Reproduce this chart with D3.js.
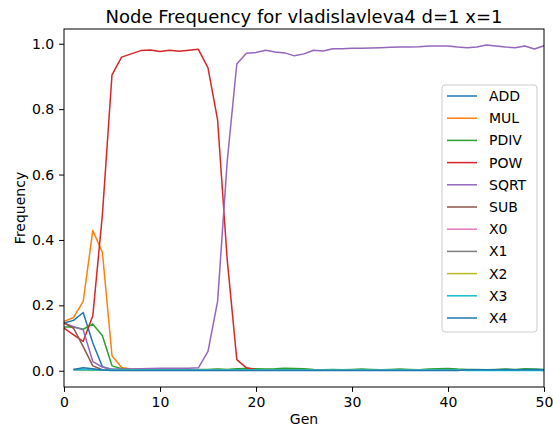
<!DOCTYPE html>
<html><head><meta charset="utf-8">
<script src="https://cdn.jsdelivr.net/npm/d3@7"></script>
<style>body{margin:0;background:#fff}text{font-family:"DejaVu Sans",sans-serif}</style>
</head><body>
<svg id="c" width="553" height="430"></svg>
<script>
const titleText = "Node Frequency for vladislavleva4 d=1 x=1";
const gens = d3.range(0, 51);
const xTicks = [0, 10, 20, 30, 40, 50];
const yTicks = [0.0, 0.2, 0.4, 0.6, 0.8, 1.0];
const names = ["ADD","MUL","PDIV","POW","SQRT","SUB","X0","X1","X2","X3","X4"];
const colors = ["#1f77b4","#ff7f0e","#2ca02c","#d62728","#9467bd","#8c564b","#e377c2","#7f7f7f","#bcbd22","#17becf","#1f77b4"];

const ADD = [0.146,0.154,0.178,0.085,0.012, 0.004,0.003,0.003,0.002,0.003, 0.003,0.002,0.003,0.002,0.003, 0.002,0.003,0.002,0.003,0.002, 0.003,0.003,0.002,0.003,0.004, 0.003,0.002,0.003,0.002,0.003, 0.002,0.003,0.002,0.003,0.002, 0.003,0.002,0.003,0.002,0.003, 0.002,0.003,0.002,0.003,0.002, 0.003,0.004,0.003,0.002,0.003, 0.002];
const MUL = [0.151,0.163,0.212,0.429,0.362, 0.046,0.010,0.005,0.004,0.004, 0.004,0.003,0.004,0.003,0.003, 0.003,0.004,0.003,0.004,0.003, 0.003,0.002,0.003,0.003,0.002, 0.003,0.003,0.002,0.003,0.003, 0.002,0.003,0.003,0.002,0.003, 0.003,0.002,0.003,0.003,0.002, 0.003,0.003,0.002,0.003,0.003, 0.002,0.003,0.003,0.002,0.003, 0.003];
const PDIV = [0.134,0.134,0.127,0.143,0.107, 0.015,0.006,0.004,0.004,0.003, 0.003,0.004,0.003,0.003,0.004, 0.004,0.005,0.004,0.006,0.007, 0.006,0.005,0.006,0.008,0.007, 0.006,0.004,0.003,0.004,0.003, 0.004,0.005,0.004,0.003,0.004, 0.005,0.004,0.003,0.005,0.006, 0.007,0.005,0.004,0.004,0.003, 0.004,0.005,0.004,0.006,0.005, 0.004];
const POW = [0.130,0.110,0.090,0.168,0.477, 0.905,0.959,0.969,0.979,0.981, 0.976,0.980,0.977,0.980,0.983, 0.926,0.767,0.340,0.034,0.009, 0.004,0.003,0.003,0.002,0.003, 0.002,0.002,0.003,0.002,0.002, 0.002,0.002,0.002,0.002,0.002, 0.002,0.002,0.002,0.002,0.002, 0.002,0.002,0.002,0.002,0.002, 0.002,0.002,0.002,0.002,0.002, 0.002];
const SQRT = [0.146,0.135,0.125,0.028,0.011, 0.005,0.005,0.005,0.006,0.007, 0.008,0.008,0.008,0.008,0.009, 0.059,0.212,0.640,0.938,0.971, 0.973,0.980,0.975,0.972,0.963, 0.969,0.980,0.978,0.985,0.985, 0.986,0.986,0.987,0.988,0.989, 0.990,0.990,0.991,0.993,0.993, 0.993,0.990,0.988,0.990,0.996, 0.993,0.990,0.988,0.993,0.984, 0.994];
const SUB = [0.146,0.130,0.074,0.015,0.003, 0.002,0.002,0.002,0.002,0.002, 0.002,0.002,0.002,0.002,0.002, 0.002,0.002,0.002,0.002,0.002, 0.002,0.002,0.002,0.002,0.002, 0.002,0.002,0.002,0.002,0.002, 0.002,0.002,0.002,0.002,0.002, 0.002,0.002,0.002,0.002,0.002, 0.002,0.002,0.002,0.002,0.002, 0.002,0.002,0.002,0.002,0.002, 0.001];
const X0 = [null,0.004,0.003,0.003,0.002, 0.003,0.002,0.003,0.002,0.003, 0.002,0.003,0.002,0.003,0.002, 0.003,0.002,0.003,0.002,0.003, 0.002,0.003,0.002,0.003,0.002, 0.003,0.002,0.003,0.002,0.003, 0.002,0.003,0.002,0.003,0.002, 0.003,0.002,0.003,0.002,0.003, 0.002,0.003,0.002,0.003,0.002, 0.003,0.002,0.003,0.002,0.003, 0.002];
const X1 = [null,0.003,0.004,0.002,0.003, 0.002,0.003,0.002,0.003,0.002, 0.003,0.002,0.003,0.002,0.003, 0.002,0.003,0.002,0.003,0.002, 0.003,0.002,0.003,0.002,0.003, 0.002,0.003,0.002,0.003,0.002, 0.003,0.002,0.003,0.002,0.003, 0.002,0.003,0.002,0.003,0.002, 0.003,0.002,0.003,0.002,0.003, 0.002,0.003,0.002,0.003,0.002, 0.003];
const X2 = [null,0.004,0.002,0.001,0.002, 0.002,0.002,0.002,0.002,0.002, 0.002,0.002,0.002,0.002,0.002, 0.002,0.002,0.002,0.002,0.002, 0.002,0.002,0.002,0.002,0.002, 0.002,0.002,0.002,0.002,0.002, 0.002,0.002,0.002,0.002,0.002, 0.002,0.002,0.002,0.002,0.002, 0.002,0.002,0.002,0.002,0.002, 0.002,0.002,0.002,0.002,0.002, 0.002];
const X3 = [null,0.003,0.003,0.002,0.002, 0.002,0.002,0.002,0.002,0.002, 0.002,0.002,0.002,0.002,0.002, 0.002,0.002,0.002,0.002,0.002, 0.002,0.002,0.002,0.002,0.002, 0.002,0.002,0.002,0.002,0.002, 0.002,0.002,0.002,0.002,0.002, 0.002,0.002,0.002,0.002,0.002, 0.002,0.002,0.001,0.001,0.001, 0.001,0.001,0.001,0.001,0.001, 0.001];
const X4 = [null,0.004,0.009,0.006,0.002, 0.001,0.001,0.001,0.001,0.001, 0.001,0.001,0.001,0.001,0.001, 0.001,0.001,0.001,0.001,0.001, 0.001,0.001,0.001,0.001,0.001, 0.001,0.001,0.001,0.001,0.001, 0.001,0.001,0.001,0.001,0.001, 0.001,0.001,0.001,0.001,0.001, 0.001,0.001,0.003,0.003,0.003, 0.003,0.003,0.003,0.003,0.004, 0.003];

const seriesValues = [ADD,MUL,PDIV,POW,SQRT,SUB,X0,X1,X2,X3,X4];

const W = 553, H = 430;
const L = 64, R = 544, T = 29, B = 387;
const svg = d3.select("#c");

const x = d3.scaleLinear().domain([0, 50]).range([L, R]);
const y = d3.scaleLinear().domain([-0.0497, 1.0451]).range([B, T]);

const line = d3.line()
  .defined(d => d[1] !== null)
  .x(d => x(d[0]))
  .y(d => y(d[1]));

const plot = svg.append("g");
seriesValues.forEach((vals, i) => {
  plot.append("path")
    .datum(gens.map(g => [g, vals[g]]))
    .attr("fill", "none")
    .attr("stroke", colors[i])
    .attr("stroke-width", 1.5)
    .attr("stroke-linejoin", "round")
    .attr("d", line);
});

// axes
const xAxis = d3.axisBottom(x).tickValues(xTicks).tickFormat(d3.format("d")).tickSize(4.9).tickPadding(4.9);
const yAxis = d3.axisLeft(y).tickValues(yTicks).tickFormat(d3.format(".1f")).tickSize(4.9).tickPadding(4.9);
const gx = svg.append("g").attr("transform", `translate(0,${B})`).call(xAxis);
const gy = svg.append("g").attr("transform", `translate(${L},0)`).call(yAxis);
[gx, gy].forEach(g => {
  g.select(".domain").remove();
  g.selectAll("line").attr("stroke", "#000").attr("stroke-width", 1);
  g.selectAll("text").attr("fill", "#000").style("font-size", "14px").style("font-family", "DejaVu Sans");
});

// frame
svg.append("rect").attr("x", L).attr("y", T).attr("width", R - L).attr("height", B - T)
  .attr("fill", "none").attr("stroke", "#000").attr("stroke-width", 1);

// title & labels
svg.append("text").attr("x", (L + R) / 2).attr("y", 23).attr("text-anchor", "middle")
  .style("font-size", "18px").text(titleText);
svg.append("text").attr("x", (L + R) / 2).attr("y", 424).attr("text-anchor", "middle")
  .style("font-size", "14px").text("Gen");
svg.append("text").attr("transform", `translate(25,${(T + B) / 2}) rotate(-90)`).attr("text-anchor", "middle")
  .style("font-size", "14px").text("Frequency");

// legend
const lg = svg.append("g");
lg.append("rect").attr("x", 442).attr("y", 85).attr("width", 95).attr("height", 247)
  .attr("rx", 3).attr("fill", "#fff").attr("fill-opacity", 0.8).attr("stroke", "#ccc").attr("stroke-width", 1);
names.forEach((n, i) => {
  const yy = 96 + i * 22.2;
  lg.append("line").attr("x1", 447).attr("x2", 477).attr("y1", yy).attr("y2", yy)
    .attr("stroke", colors[i]).attr("stroke-width", 1.5);
  lg.append("text").attr("x", 489).attr("y", yy).attr("dy", "0.36em")
    .style("font-size", "14px").text(n);
});
</script>
</body></html>
